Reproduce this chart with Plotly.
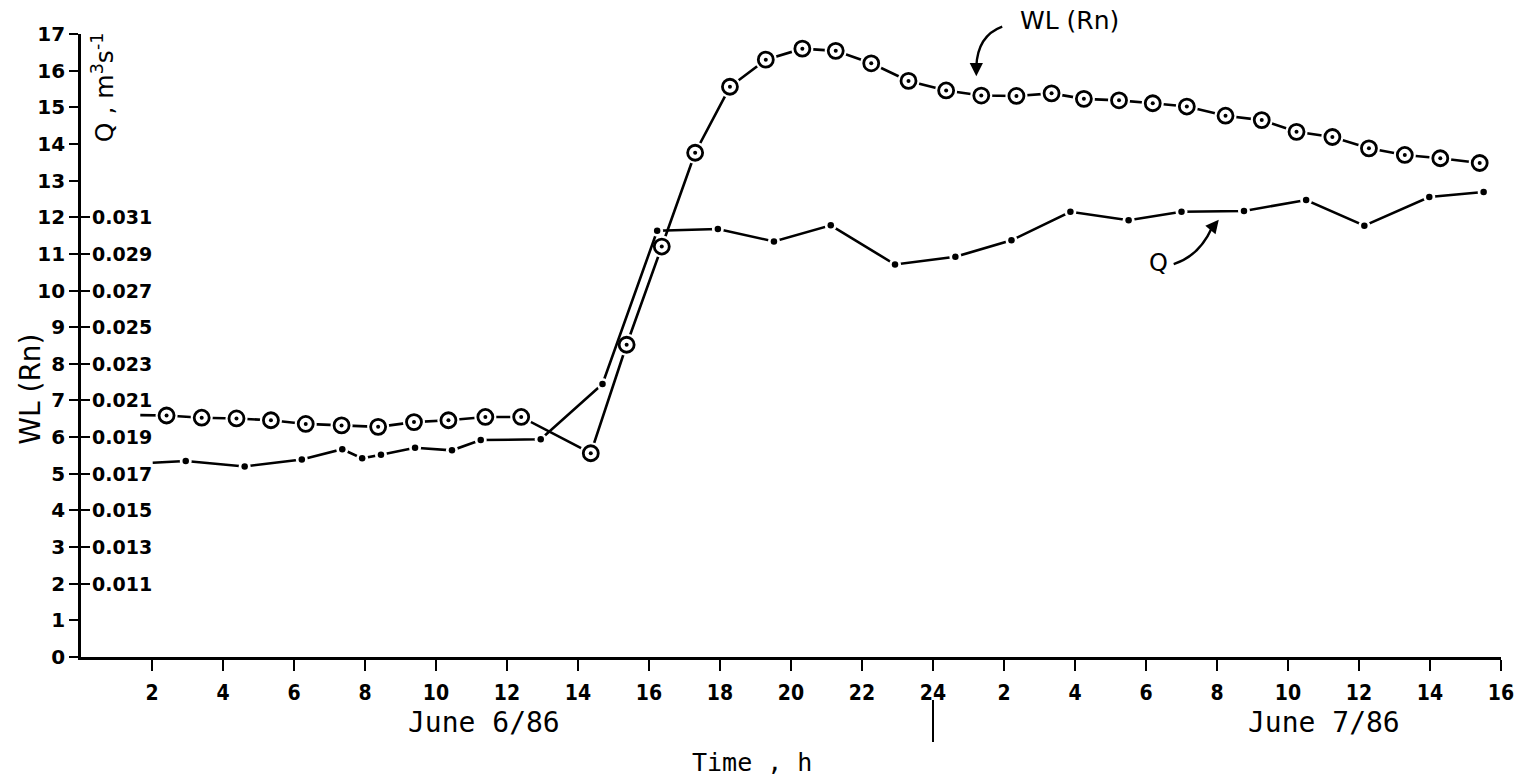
import plotly.graph_objects as go

# ---------------- data ----------------
# time in hours from 0 h of June 6/86 (24 = midnight, 40 = 16 h June 7)
wl_stub_t = [1.67]
wl_stub_v = [6.60]
wl_t = [2.41, 3.40, 4.38, 5.35, 6.33, 7.34, 8.37, 9.38, 10.35, 11.39, 12.40,
        14.36, 15.37, 16.36, 17.30, 18.28, 19.29, 20.32, 21.26, 22.26, 23.31,
        24.37, 25.36, 26.35, 27.34, 28.25, 29.24, 30.19, 31.15, 32.24, 33.26,
        34.24, 35.25, 36.28, 37.29, 38.29, 39.40]
wl_v = [6.59, 6.53, 6.51, 6.46, 6.36, 6.32, 6.28, 6.41, 6.46, 6.55, 6.55,
        5.56, 8.52, 11.20, 13.76, 15.56, 16.30, 16.60, 16.54, 16.20, 15.72,
        15.46, 15.32, 15.31, 15.38, 15.23, 15.19, 15.11, 15.02, 14.77, 14.65,
        14.33, 14.19, 13.88, 13.70, 13.61, 13.48]

q_stub_t = [2.02]
q_stub_v = [0.0176]
q_t = [2.95, 4.61, 6.22, 7.36, 7.92, 8.45, 9.41, 10.45, 11.26, 12.95, 14.69,
       16.23, 17.94, 19.52, 21.12, 22.93, 24.63, 26.21, 27.87, 29.51, 31.00,
       32.76, 34.51, 36.15, 37.98, 39.51]
q_v = [0.01770, 0.01740, 0.01778, 0.01834, 0.01784, 0.01804, 0.01842, 0.01828,
       0.01884, 0.01888, 0.02190, 0.03026, 0.03036, 0.02968, 0.03056, 0.02842,
       0.02884, 0.02974, 0.03130, 0.03084, 0.03130, 0.03134, 0.03194, 0.03054,
       0.03210, 0.03238]

x_tickvals = list(range(2, 41, 2))
x_ticktext = ["2", "4", "6", "8", "10", "12", "14", "16", "18", "20", "22", "24",
              "2", "4", "6", "8", "10", "12", "14", "16"]
wl_tickvals = list(range(0, 18))
q_tickvals = [0.011, 0.013, 0.015, 0.017, 0.019, 0.021, 0.023, 0.025, 0.027, 0.029, 0.031]
q_ticktext = ["0.011", "0.013", "0.015", "0.017", "0.019", "0.021", "0.023", "0.025",
              "0.027", "0.029", "0.031"]

X_RANGE = [0, 40]
WL_RANGE = [0, 17]
Q_RANGE = [0.007, 0.041]

# --------------- figure ---------------
LW = 2.6
fig = go.Figure()

# lines
fig.add_trace(go.Scatter(x=wl_stub_t + wl_t, y=wl_stub_v + wl_v, mode="lines",
                         line=dict(color="black", width=LW), hoverinfo="skip"))
fig.add_trace(go.Scatter(x=q_stub_t + q_t, y=q_stub_v + q_v, mode="lines", yaxis="y2",
                         line=dict(color="black", width=LW), hoverinfo="skip"))
# halos (gaps between line and markers)
fig.add_trace(go.Scatter(x=wl_t, y=wl_v, mode="markers",
                         marker=dict(size=22, color="white", line=dict(width=0)), hoverinfo="skip"))
fig.add_trace(go.Scatter(x=q_t, y=q_v, mode="markers", yaxis="y2",
                         marker=dict(size=12, color="white", line=dict(width=0)), hoverinfo="skip"))
# markers
fig.add_trace(go.Scatter(x=wl_t, y=wl_v, mode="markers",
                         marker=dict(size=15, color="white", line=dict(width=2.8, color="black")),
                         hoverinfo="skip"))
fig.add_trace(go.Scatter(x=wl_t, y=wl_v, mode="markers",
                         marker=dict(size=4, color="black"), hoverinfo="skip"))
fig.add_trace(go.Scatter(x=q_t, y=q_v, mode="markers", yaxis="y2",
                         marker=dict(size=6.5, color="black"), hoverinfo="skip"))

L, R, T, B = 81, 20, 34, 119
W, H = 1526, 776

def px(t):
    return (t - X_RANGE[0]) / (X_RANGE[1] - X_RANGE[0])

def py(v):
    return (v - WL_RANGE[0]) / (WL_RANGE[1] - WL_RANGE[0])

def pq(q):
    return (q - Q_RANGE[0]) / (Q_RANGE[1] - Q_RANGE[0])

tickfont_y = dict(family="DejaVu Sans", size=20, color="black", weight="bold")
tickfont_q = dict(family="DejaVu Sans", size=19, color="black", weight="bold")
tickfont_x = dict(family="DejaVu Sans Condensed, Liberation Sans Narrow, DejaVu Sans",
                  size=21, color="black", weight="bold")

fig.update_layout(
    width=W, height=H,
    margin=dict(l=L, r=R, t=T, b=B),
    paper_bgcolor="white", plot_bgcolor="white",
    showlegend=False,
    xaxis=dict(range=X_RANGE, tickvals=x_tickvals, ticktext=x_ticktext,
               showgrid=False, zeroline=False, showline=True, linecolor="black",
               linewidth=LW, ticks="outside", ticklen=11, tickwidth=2.2, tickcolor="black",
               tickfont=tickfont_x, ticklabelstandoff=4),
    yaxis=dict(range=WL_RANGE, tickvals=wl_tickvals, showgrid=False, zeroline=False,
               showline=True, linecolor="black", linewidth=LW, ticks="outside",
               ticklen=9, tickwidth=2.2, tickcolor="black", tickfont=tickfont_y,
               ticklabelstandoff=0),
    yaxis2=dict(range=Q_RANGE, overlaying="y", anchor="x", side="left",
                tickvals=q_tickvals, showticklabels=False, showgrid=False, zeroline=False,
                showline=False, ticks="inside", ticklen=9, tickwidth=2.2, tickcolor="black"),
)

mono = "DejaVu Sans Mono, Liberation Mono, monospace"
P = dict(xref="paper", yref="paper", showarrow=False, xanchor="center", yanchor="middle")
ann = [
    dict(text="WL (Rn)", x=px(-1.43), y=py(7.3), textangle=-90,
         font=dict(family="DejaVu Sans", size=28, color="black"), **P),
    dict(text="Q , m<sup>3</sup>s<sup>-1</sup>", x=px(0.62), y=py(15.55),
         textangle=-90, font=dict(family="DejaVu Sans", size=25, color="black"), **P),
    dict(text="June 6/86", x=px(11.35), y=py(-1.8),
         font=dict(family=mono, size=28, color="black"), **P),
    dict(text="June 7/86", x=px(35.0), y=py(-1.8),
         font=dict(family=mono, size=28, color="black"), **P),
    dict(text="Time , h", x=px(18.9), y=py(-2.88),
         font=dict(family=mono, size=25, color="black"), **P),
    dict(text="WL (Rn)", x=px(27.85), y=py(17.38),
         font=dict(family="DejaVu Sans", size=25, color="black"), **P),
    dict(text="Q", x=px(30.35), y=py(10.75),
         font=dict(family="DejaVu Sans", size=24, color="black"), **P),
    # arrow tips
    dict(text="", x=25.22, y=15.85, xref="x", yref="y", ax=0, ay=-14,
         showarrow=True, arrowhead=2, arrowsize=1.1, arrowwidth=2.4, arrowcolor="black"),
    dict(text="", x=32.05, y=11.93, xref="x", yref="y", ax=-9, ay=11,
         showarrow=True, arrowhead=2, arrowsize=1.1, arrowwidth=2.4, arrowcolor="black"),
]
# Q tick labels drawn to the right of the axis (inside the plot)
for qv, qt in zip(q_tickvals, q_ticktext):
    ann.append(dict(text=qt, x=0, y=pq(qv), xref="paper", yref="paper", showarrow=False,
                    xanchor="left", yanchor="middle", xshift=9, font=tickfont_q))
fig.update_layout(annotations=ann)

def path_q(p0, c, p1):
    return "M {:.5f},{:.5f} Q {:.5f},{:.5f} {:.5f},{:.5f}".format(
        px(p0[0]), py(p0[1]), px(c[0]), py(c[1]), px(p1[0]), py(p1[1]))

shapes = [
    dict(type="path", xref="paper", yref="paper",
         path=path_q((25.95, 17.2), (25.25, 16.95), (25.22, 16.1)),
         line=dict(color="black", width=2.4)),
    dict(type="path", xref="paper", yref="paper",
         path=path_q((30.78, 10.72), (31.5, 10.95), (31.85, 11.7)),
         line=dict(color="black", width=2.4)),
    dict(type="line", xref="paper", yref="paper", x0=px(24), x1=px(24),
         y0=py(-1.17), y1=py(-2.32), line=dict(color="black", width=2)),
]
fig.update_layout(shapes=shapes)

fig.write_html("out.html")
